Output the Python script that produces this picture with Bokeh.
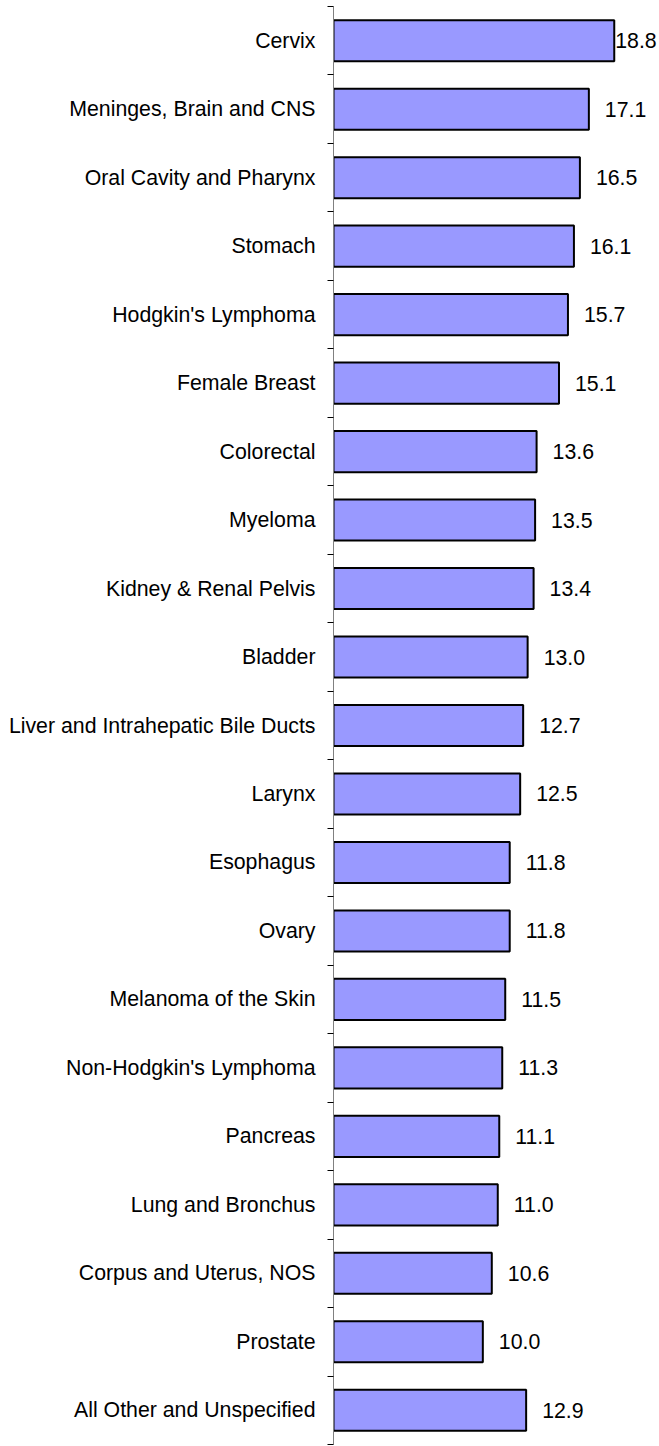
from bokeh.plotting import figure
from bokeh.models import ColumnDataSource, Range1d, FixedTicker
from bokeh.core.properties import value
from bokeh.embed import file_html
from bokeh.resources import INLINE

categories = [
    "Cervix", "Meninges, Brain and CNS", "Oral Cavity and Pharynx", "Stomach",
    "Hodgkin's Lymphoma", "Female Breast", "Colorectal", "Myeloma",
    "Kidney & Renal Pelvis", "Bladder", "Liver and Intrahepatic Bile Ducts",
    "Larynx", "Esophagus", "Ovary", "Melanoma of the Skin",
    "Non-Hodgkin's Lymphoma", "Pancreas", "Lung and Bronchus",
    "Corpus and Uterus, NOS", "Prostate", "All Other and Unspecified",
]
values = [18.8, 17.1, 16.5, 16.1, 15.7, 15.1, 13.6, 13.5, 13.4, 13.0, 12.7,
          12.5, 11.8, 11.8, 11.5, 11.3, 11.1, 11.0, 10.6, 10.0, 12.9]

n = len(categories)
pos = [n - i - 0.5 for i in range(n)]
vmax = max(values)
offsets = [1 if v == vmax else 16 for v in values]
labels = ["%.1f" % v for v in values]

src = ColumnDataSource(dict(cat=categories, val=values, y=pos, lab=labels, off=offsets))

FONT = "Liberation Sans"
FS = "21.3px"

p = figure(width=659, height=1446, output_backend="svg", toolbar_location=None,
           x_range=Range1d(0, 21.83), y_range=Range1d(0, n),
           x_axis_location=None, min_border_left=333, min_border_right=0,
           min_border_top=6, min_border_bottom=2)
p.outline_line_color = None
p.xgrid.visible = False
p.ygrid.visible = False

p.hbar(y="y", right="val", left=0, height=0.6, source=src,
       fill_color="#9999FF", line_color="#000000", line_width=2)

p.text(x="val", y="y", text="lab", x_offset="off", source=src,
       text_baseline="middle", text_align="left",
       text_font=value(FONT), text_font_size=FS, text_color="#000000")

ax = p.yaxis[0]
ax.ticker = FixedTicker(ticks=pos, minor_ticks=list(range(n + 1)))
ax.major_label_overrides = {y: c for y, c in zip(pos, categories)}
ax.major_tick_out = 0
ax.major_tick_in = 0
ax.major_tick_line_color = None
ax.minor_tick_out = 6
ax.minor_tick_in = 0
ax.minor_tick_line_color = "#000000"
ax.axis_line_color = "#808080"
ax.axis_line_width = 1
ax.major_label_standoff = 12
ax.major_label_text_font = FONT
ax.major_label_text_font_size = FS
ax.major_label_text_color = "#000000"

open("out.html", "w").write(file_html(p, INLINE))
